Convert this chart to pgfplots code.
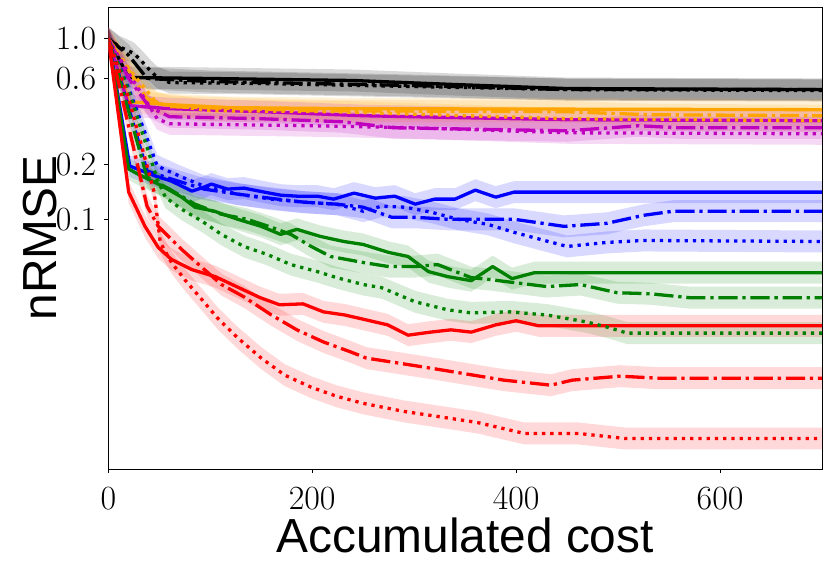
\RequirePackage{fix-cm}
\documentclass[border=0pt]{standalone}
\usepackage{fontspec}
\newfontfamily\lab{Liberation Sans}
\usepackage{pgfplots}
\pgfplotsset{compat=1.18}
\usepgfplotslibrary{fillbetween}
\usepackage{pgfplotstable}
\definecolor{mplorange}{RGB}{255,165,0}
\definecolor{mplgreen}{RGB}{0,128,0}
\definecolor{mplmag}{RGB}{191,0,191}
\definecolor{mplred}{RGB}{255,0,0}
\definecolor{mplblue}{RGB}{0,0,255}

% black
\pgfplotstableread{
x y
0 1.0
20 0.6073
100 0.5995
240 0.5844
340 0.5553
450 0.5275
700 0.5208
}\BKa
\pgfplotstableread{
x y
0 1.0
20 0.8046
38 0.5995
100 0.5769
300 0.5481
450 0.5208
700 0.5208
}\BKb
\pgfplotstableread{
x y
0 1.0
10 0.9027
25 0.8254
32 0.7547
41 0.6641
48 0.6073
60 0.5696
150 0.5624
300 0.5412
450 0.5208
700 0.5142
}\BKc
% orange
\pgfplotstableread{
x y
0 1.0
20 0.4467
60 0.4299
120 0.4137
240 0.4084
700 0.4032
}\ORa
\pgfplotstableread{
x y
0 1.0
38 0.4642
60 0.4190
200 0.3981
450 0.3930
530 0.3782
700 0.3734
}\ORb
\pgfplotstableread{
x y
0 1.0
20 0.6813
48 0.4354
100 0.3981
220 0.3930
450 0.3594
700 0.3503
}\ORc
% magenta
\pgfplotstableread{
x y
0 1.0
20 0.4244
60 0.4084
150 0.3930
250 0.3734
450 0.3548
700 0.3503
}\MAa
\pgfplotstableread{
x y
0 1.0
20 0.5995
40 0.4190
60 0.3687
150 0.3594
230 0.3458
280 0.3203
450 0.3082
520 0.3286
560 0.3203
700 0.3203
}\MAb
\pgfplotstableread{
x y
0 1.0
20 0.6391
48 0.3594
60 0.3371
200 0.3286
300 0.3203
450 0.3005
700 0.2967
}\MAc
% blue
\pgfplotstableread{
x y
0 1.0
21 0.1970
46 0.1734
62 0.1626
82 0.1431
94 0.1506
101 0.1565
117 0.1468
133 0.1487
153 0.1413
169 0.1359
185 0.1342
205 0.1342
221 0.1292
241 0.1395
262 0.1308
281 0.1342
301 0.1212
320 0.1292
340 0.1292
360 0.1449
380 0.1325
398 0.1413
700 0.1413
}\BLa
\pgfplotstableread{
x y
0 1.0
38 0.1848
62 0.1668
94 0.1468
127 0.1377
166 0.1292
192 0.1243
224 0.1212
250 0.1166
278 0.1026
301 0.1026
333 0.1
365 0.1
398 0.1
447 0.0914
489 0.0950
525 0.1052
554 0.1108
700 0.1108
}\BLb
\pgfplotstableread{
x y
0 1.0
20 0.5275
48 0.1970
72 0.1711
94 0.1525
127 0.1377
160 0.1292
192 0.1243
224 0.1212
250 0.1108
268 0.1181
291 0.1166
317 0.1094
343 0.1
372 0.0938
398 0.0847
424 0.0774
450 0.0708
469 0.0726
489 0.0745
525 0.0764
700 0.0754
}\BLc
% green
\pgfplotstableread{
x y
0 1.0
20 0.1895
29 0.1778
53 0.1525
72 0.1325
85 0.1166
104 0.1108
127 0.1
150 0.0914
169 0.0825
185 0.0880
208 0.0804
231 0.0754
250 0.0726
275 0.0656
294 0.0623
314 0.0514
333 0.0482
356 0.0458
377 0.0548
396 0.0470
418 0.0507
700 0.0507
}\GRa
\pgfplotstableread{
x y
0 1.0
38 0.1711
60 0.1468
85 0.1212
111 0.1066
136 0.1
160 0.0903
179 0.0825
199 0.0708
218 0.0623
250 0.0577
275 0.0548
301 0.0548
323 0.0562
356 0.0476
375 0.0464
398 0.0447
430 0.0425
463 0.0436
499 0.0393
531 0.0388
570 0.0369
700 0.0369
}\GRb
\pgfplotstableread{
x y
0 1.0
20 0.5142
48 0.1668
56 0.1325
72 0.1136
92 0.0975
111 0.0825
133 0.0708
156 0.0639
179 0.0562
205 0.0514
224 0.0476
250 0.0436
268 0.0419
301 0.0350
333 0.0316
356 0.0304
394 0.0308
430 0.0296
469 0.0271
489 0.0254
509 0.0235
700 0.0235
}\GRc
% red
\pgfplotstableread{
x y
0 1.0
20 0.1413
36 0.0914
49 0.0699
62 0.0600
82 0.0527
105 0.0482
128 0.0419
149 0.0369
168 0.0337
191 0.0341
211 0.0308
232 0.0296
253 0.0278
274 0.0261
294 0.0229
316 0.0238
336 0.0245
356 0.0238
380 0.0261
400 0.0275
422 0.0258
700 0.0258
}\RDa
\pgfplotstableread{
x y
0 1.0
38 0.1181
49 0.0914
72 0.0681
92 0.0541
111 0.0436
133 0.0373
160 0.0296
185 0.0245
211 0.0210
238 0.01848
253 0.01711
310 0.01525
346 0.01413
388 0.01292
434 0.01212
455 0.01292
502 0.01359
539 0.01325
700 0.01325
}\RDb
\pgfplotstableread{
x y
0 1.0
20 0.4642
45 0.1413
51 0.0745
62 0.0577
75 0.0464
92 0.0359
107 0.0285
127 0.0221
150 0.01711
173 0.01377
199 0.01181
224 0.01052
250 0.00962
290 0.00868
336 0.00794
362 0.00754
408 0.00656
461 0.00656
507 0.00615
700 0.00615
}\RDc

\newcommand{\band}[3]{%
\addplot[name path=u#3, draw=none, forget plot] table[x=x, y expr=\thisrow{y}*1.15]{#2};
\addplot[name path=l#3, draw=none, forget plot] table[x=x, y expr=\thisrow{y}/1.15]{#2};
\addplot[fill=#1, fill opacity=0.15, draw=none, forget plot] fill between[of=u#3 and l#3];
}

\pgfplotsset{
 sol/.style={line width=3.3bp, line join=round},
 dd/.style={line width=3.3bp, line join=round, dash pattern=on 19.2bp off 4.8bp on 3.3bp off 4.8bp},
 dt/.style={line width=3.3bp, line join=round, dash pattern=on 3.3bp off 4.95bp},
}

\begin{document}
\begin{tikzpicture}
\begin{axis}[
 scale only axis, width=713.7bp, height=461.7bp,
 xmin=0, xmax=700, ymode=log, ymin=0.004173, ymax=1.483,
 xtick={0,200,400,600},
 ytick={0.1,0.2,0.6,1}, yticklabels={$0.1$,$0.2$,$0.6$,$1.0$},
 yminorticks=false, xminorticks=false,
 xtick pos=bottom, ytick pos=left,
 tick align=outside, major tick length=4bp,
 tick style={black, line width=0.8bp},
 axis line style={black, line width=0.8bp},
 tick label style={font=\fontsize{34}{40}\selectfont},
 xticklabel style={inner sep=0pt, yshift=-14bp},
 yticklabel style={inner sep=0pt, xshift=-8bp},
 xlabel={Accumulated cost}, ylabel={nRMSE},
 label style={font=\lab\fontsize{48}{56}\selectfont},
 xlabel style={at={(axis description cs:0.5,-0.1798)}, anchor=base},
 ylabel style={at={(axis description cs:-0.0729,0.5)}, anchor=base},
 clip=true,
]
% bands
\band{black}{\BKa}{a}
\band{black}{\BKb}{b}
\band{black}{\BKc}{c}
\band{mplorange}{\ORa}{d}
\band{mplorange}{\ORb}{e}
\band{mplorange}{\ORc}{f}
\band{mplmag}{\MAa}{g}
\band{mplmag}{\MAb}{h}
\band{mplmag}{\MAc}{i}
\band{mplblue}{\BLa}{j}
\band{mplblue}{\BLb}{k}
\band{mplblue}{\BLc}{l}
\band{mplgreen}{\GRa}{m}
\band{mplgreen}{\GRb}{n}
\band{mplgreen}{\GRc}{o}
\band{mplred}{\RDa}{p}
\band{mplred}{\RDb}{q}
\band{mplred}{\RDc}{r}
% solid
\addplot[sol, black] table[x=x,y=y]{\BKa};
\addplot[sol, mplorange] table[x=x,y=y]{\ORa};
\addplot[sol, mplmag] table[x=x,y=y]{\MAa};
\addplot[sol, mplblue] table[x=x,y=y]{\BLa};
\addplot[sol, mplgreen] table[x=x,y=y]{\GRa};
\addplot[sol, mplred] table[x=x,y=y]{\RDa};
% dash-dot
\addplot[dd, black] table[x=x,y=y]{\BKb};
\addplot[dd, mplorange] table[x=x,y=y]{\ORb};
\addplot[dd, mplmag] table[x=x,y=y]{\MAb};
\addplot[dd, mplblue] table[x=x,y=y]{\BLb};
\addplot[dd, mplgreen] table[x=x,y=y]{\GRb};
\addplot[dd, mplred] table[x=x,y=y]{\RDb};
% dotted
\addplot[dt, black] table[x=x,y=y]{\BKc};
\addplot[dt, mplorange] table[x=x,y=y]{\ORc};
\addplot[dt, mplmag] table[x=x,y=y]{\MAc};
\addplot[dt, mplblue] table[x=x,y=y]{\BLc};
\addplot[dt, mplgreen] table[x=x,y=y]{\GRc};
\addplot[dt, mplred] table[x=x,y=y]{\RDc};
\end{axis}
\pgfresetboundingbox
\path[use as bounding box] ([shift={(-108.3bp,-101bp)}]current axis.south west) rectangle ([shift={(9bp,7.3bp)}]current axis.north east);
\end{tikzpicture}
\end{document}
